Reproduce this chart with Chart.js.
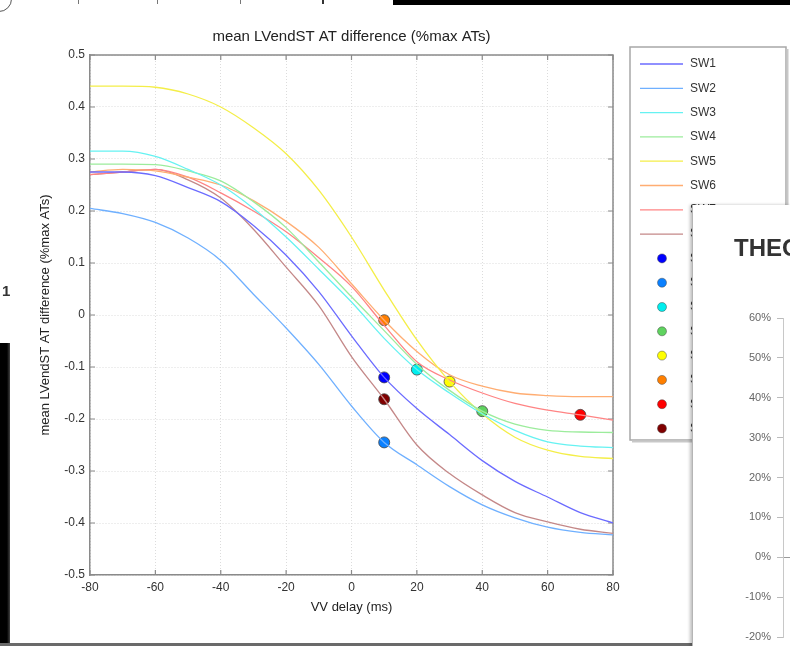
<!DOCTYPE html>
<html>
<head>
<meta charset="utf-8">
<script src="https://cdn.jsdelivr.net/npm/chart.js@4/dist/chart.umd.min.js"></script>
<style>
  html, body { margin: 0; padding: 0; background: #fff; }
  body { width: 790px; height: 646px; position: relative; overflow: hidden; font-family: "Liberation Sans", Arial, sans-serif; }
  #main { position: absolute; left: 0; top: 0; }
  .blk { position: absolute; background: #000; }
  .tk { position: absolute; top: 0; width: 1px; height: 4px; background: #777; }
  #side { position: absolute; left: 692px; top: 205px; width: 98px; height: 441px; overflow: hidden; background: #fff;
          border-left: 1px solid #b5b5b5; box-shadow: -2px 0 3px rgba(0,0,0,0.25); }
  #side canvas { position: absolute; left: 0; top: 0; }
</style>
</head>
<body>
<canvas id="main" width="790" height="646"></canvas>

<!-- surrounding desktop pieces -->
<div class="blk" style="left:393px;top:0;width:397px;height:5px"></div>
<div class="tk" style="left:78px"></div>
<div class="tk" style="left:157px"></div>
<div class="tk" style="left:240px"></div>
<div class="tk" style="left:322px;width:2px;background:#333"></div>
<div style="position:absolute;left:-14px;top:-14px;width:24px;height:24px;border-radius:50%;border:1px solid #555;"></div>
<div style="position:absolute;left:2px;top:282px;font:bold 15px 'Liberation Sans',Arial,sans-serif;color:#333">1</div>
<div style="position:absolute;left:0;top:343px;width:10px;height:300px;background:linear-gradient(to right,#000 0,#000 70%,#444 100%)"></div>
<div style="position:absolute;left:0;top:643px;width:692px;height:3px;background:#6a6a6a"></div>

<div id="side"><canvas id="theo" width="400" height="520"></canvas></div>

<script>
// VV delay sweep (ms)
const vvDelay = [-80, -70, -60, -50, -40, -30, -20, -10, 0, 10, 20, 30, 40, 50, 60, 70, 80];

// mean LVendST activation-time difference per subject (fraction of max AT)
const sw1 = [0.275, 0.275, 0.268, 0.245, 0.218, 0.172, 0.115, 0.045, -0.04, -0.12, -0.18, -0.23, -0.28, -0.32, -0.35, -0.38, -0.40];
const sw2 = [0.205, 0.195, 0.178, 0.148, 0.105, 0.04, -0.025, -0.095, -0.175, -0.245, -0.288, -0.33, -0.365, -0.39, -0.408, -0.418, -0.423];
const sw3 = [0.315, 0.315, 0.305, 0.28, 0.25, 0.205, 0.15, 0.088, 0.025, -0.045, -0.105, -0.15, -0.19, -0.222, -0.244, -0.252, -0.255];
const sw4 = [0.29, 0.29, 0.289, 0.277, 0.258, 0.218, 0.168, 0.102, 0.035, -0.03, -0.095, -0.145, -0.185, -0.21, -0.222, -0.225, -0.226];
const sw5 = [0.44, 0.44, 0.438, 0.425, 0.40, 0.36, 0.31, 0.24, 0.15, 0.048, -0.048, -0.128, -0.19, -0.235, -0.26, -0.272, -0.276];
const sw6 = [0.275, 0.28, 0.277, 0.265, 0.25, 0.22, 0.18, 0.13, 0.06, -0.01, -0.07, -0.115, -0.137, -0.15, -0.155, -0.157, -0.157];
const sw7 = [0.27, 0.275, 0.28, 0.265, 0.235, 0.2, 0.16, 0.11, 0.055, -0.02, -0.09, -0.125, -0.15, -0.17, -0.183, -0.192, -0.202];
const sw8 = [0.27, 0.275, 0.28, 0.26, 0.225, 0.165, 0.092, 0.018, -0.08, -0.162, -0.25, -0.305, -0.346, -0.38, -0.398, -0.412, -0.42];

const subjects = ['SW1', 'SW2', 'SW3', 'SW4', 'SW5', 'SW6', 'SW7', 'SW8'];
const curveColors = ['#6b6bff', '#6fb0ff', '#66f2f2', '#9cec9c', '#f4ee48', '#ffad72', '#ff8484', '#c48888'];
const dotColors = ['#0000ff', '#0a80ff', '#00eeee', '#5fd35f', '#ffff00', '#ff7f00', '#ff0000', '#800000'];

// chosen optimum per subject: VV delay and its value
const optDelay = [10, 10, 20, 40, 30, 10, 70, 10];
const optValue = [-0.12, -0.245, -0.105, -0.185, -0.128, -0.01, -0.192, -0.162];

// percent ticks of the overlapping chart
const pctTicks = [60, 50, 40, 30, 20, 10, 0, -10, -20];

const series = [sw1, sw2, sw3, sw4, sw5, sw6, sw7, sw8];
const FONT = "'Liberation Sans', Arial, sans-serif";

const datasets = [];
series.forEach((s, i) => {
  datasets.push({
    label: subjects[i],
    data: vvDelay.map((x, k) => ({ x, y: s[k] })),
    showLine: true,
    borderColor: curveColors[i],
    backgroundColor: curveColors[i],
    borderWidth: 1.3,
    pointRadius: 0,
    pointHoverRadius: 0,
    cubicInterpolationMode: 'monotone',
    fill: false
  });
});
optDelay.forEach((x, i) => {
  datasets.push({
    label: subjects[i] + ' opt',
    data: [{ x, y: optValue[i] }],
    showLine: false,
    pointRadius: 5.5,
    pointHoverRadius: 5.5,
    pointBackgroundColor: dotColors[i],
    pointBorderColor: 'rgba(70,70,70,0.8)',
    pointBorderWidth: 1
  });
});

// box around the axes with inward tick marks on all four sides
const frameTicks = {
  id: 'frameTicks',
  beforeDatasetsDraw(chart) {
    const { ctx, chartArea: a, scales: { x, y } } = chart;
    ctx.save();
    ctx.strokeStyle = '#8a8a8a';
    ctx.lineWidth = 1.5;
    ctx.beginPath();
    ctx.moveTo(a.left, a.top); ctx.lineTo(a.right, a.top); ctx.lineTo(a.right, a.bottom);
    ctx.stroke();
    ctx.lineWidth = 1.2;
    ctx.beginPath();
    x.ticks.forEach(t => {
      const px = x.getPixelForValue(t.value);
      ctx.moveTo(px, a.bottom); ctx.lineTo(px, a.bottom - 5);
      ctx.moveTo(px, a.top); ctx.lineTo(px, a.top + 5);
    });
    y.ticks.forEach(t => {
      const py = y.getPixelForValue(t.value);
      ctx.moveTo(a.left, py); ctx.lineTo(a.left + 5, py);
      ctx.moveTo(a.right, py); ctx.lineTo(a.right - 5, py);
    });
    ctx.stroke();
    ctx.restore();
  }
};

// legend panel to the right of the axes
const legendPanel = {
  id: 'legendPanel',
  afterDraw(chart) {
    const { ctx, chartArea: a } = chart;
    const x0 = a.right + 17, y0 = a.top - 8, w = 156, h = 393, rowH = 24.3;
    ctx.save();
    ctx.fillStyle = '#fff';
    ctx.fillRect(x0, y0, w, h);
    ctx.strokeStyle = '#a8a8a8';
    ctx.lineWidth = 1.5;
    ctx.strokeRect(x0, y0, w, h);
    ctx.strokeStyle = '#c8c8c8';
    ctx.lineWidth = 2;
    ctx.beginPath();
    ctx.moveTo(x0 + 2, y0 + h + 1.5); ctx.lineTo(x0 + w + 1.5, y0 + h + 1.5); ctx.lineTo(x0 + w + 1.5, y0 + 2);
    ctx.stroke();
    ctx.font = '12px ' + FONT;
    ctx.textBaseline = 'middle';
    chart.data.datasets.forEach((ds, i) => {
      const yy = y0 + 17 + i * rowH;
      if (ds.showLine === false) {
        ctx.beginPath();
        ctx.arc(x0 + 32, yy, 4.5, 0, Math.PI * 2);
        ctx.fillStyle = ds.pointBackgroundColor;
        ctx.fill();
        ctx.strokeStyle = 'rgba(70,70,70,0.6)';
        ctx.lineWidth = 0.8;
        ctx.stroke();
      } else {
        ctx.beginPath();
        ctx.moveTo(x0 + 10, yy); ctx.lineTo(x0 + 53, yy);
        ctx.strokeStyle = ds.borderColor;
        ctx.lineWidth = 1.3;
        ctx.stroke();
      }
      ctx.fillStyle = '#333';
      ctx.fillText(ds.label, x0 + 60, yy);
    });
    ctx.restore();
  }
};

new Chart(document.getElementById('main'), {
  type: 'scatter',
  data: { datasets },
  plugins: [frameTicks, legendPanel],
  options: {
    responsive: false,
    animation: false,
    devicePixelRatio: 1,
    layout: { padding: { left: 0, right: 177, top: 0, bottom: 0 } },
    plugins: {
      legend: { display: false },
      tooltip: { enabled: false },
      title: {
        display: true,
        text: 'mean LVendST AT difference (%max ATs)',
        fullSize: false,
        color: '#222',
        font: { family: FONT, size: 15, weight: 'normal' },
        padding: { top: 28, bottom: 9 }
      }
    },
    scales: {
      x: {
        type: 'linear',
        min: -80, max: 80,
        afterFit(s) { s.height = 71; },
        ticks: { stepSize: 20, color: '#333', font: { family: FONT, size: 12 }, padding: 5.8, maxRotation: 0 },
        grid: { color: '#dcdcdc', drawTicks: false, lineWidth: 1 },
        border: { color: '#8a8a8a', width: 1.5, dash: [1, 2] },
        title: { display: true, text: 'VV delay (ms)', color: '#222', font: { family: FONT, size: 13 }, padding: { top: 0, bottom: 31.2 } }
      },
      y: {
        type: 'linear',
        min: -0.5, max: 0.5,
        afterFit(s) { s.width = 90; },
        ticks: {
          stepSize: 0.1, color: '#333', font: { family: FONT, size: 12 }, padding: 5,
          callback: v => Math.abs(v) < 1e-9 ? '0' : String(Math.round(v * 10) / 10)
        },
        grid: { color: '#dcdcdc', drawTicks: false, lineWidth: 1 },
        border: { color: '#8a8a8a', width: 1.5, dash: [1, 2] },
        title: { display: true, text: 'mean LVendST AT difference (%max ATs)', color: '#222', font: { family: FONT, size: 13 }, padding: { top: 37.2, bottom: 0 } }
      }
    }
  }
});

// partly hidden chart window on the right
new Chart(document.getElementById('theo'), {
  type: 'bar',
  data: { labels: [], datasets: [] },
  options: {
    responsive: false,
    animation: false,
    devicePixelRatio: 1,
    layout: { padding: { left: 41, right: 0, top: 0, bottom: 88 } },
    plugins: {
      legend: { display: false },
      tooltip: { enabled: false },
      title: {
        display: true,
        text: 'THEORETICAL',
        align: 'start',
        color: '#333',
        font: { family: FONT, size: 24, weight: 'bold' },
        padding: { top: 29.6, bottom: 54.6 }
      }
    },
    scales: {
      x: { display: false },
      y: {
        min: Math.min(...pctTicks), max: Math.max(...pctTicks),
        afterFit(s) { s.width = 49; },
        ticks: { stepSize: 10, color: '#666', font: { family: FONT, size: 11 }, padding: 6, callback: v => v + '%' },
        grid: {
          color: c => (c.tick && c.tick.value === 0) ? '#9a9a9a' : 'rgba(0,0,0,0)',
          tickColor: '#bbb', tickLength: 6, lineWidth: 1
        },
        border: { color: '#c8c8c8', width: 1 }
      }
    }
  }
});
</script>
</body>
</html>
